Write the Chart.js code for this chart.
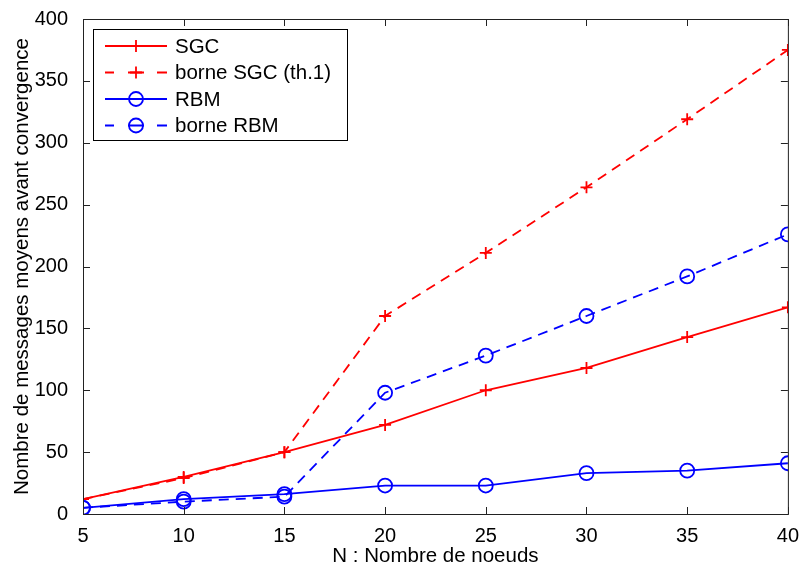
<!DOCTYPE html>
<html>
<head>
<meta charset="utf-8">
<script src="https://cdn.jsdelivr.net/npm/chart.js@4"></script>
<style>
  body { margin: 0; background: #fff; }
  #wrap { width: 801px; height: 569px; }
</style>
</head>
<body>
<div id="wrap"><canvas id="myChart" width="801" height="569"></canvas></div>
<script>
// Data
const nodes = [5, 10, 15, 20, 25, 30, 35, 40];
const sgc = [12, 30, 50, 72, 100, 118, 143, 167];
const borneSgc = [12, 29, 50, 160, 211, 264, 319, 375];
const rbm = [5, 12, 16, 23, 23, 33, 35, 41];
const borneRbm = [5, 10, 14, 98, 128, 160, 192, 226];
const seriesLabels = ['SGC', 'borne SGC (th.1)', 'RBM', 'borne RBM'];

const FONT = 'Liberation Sans, Arial, Helvetica, sans-serif';
const DASH = [10, 7];

function toPoints(arr) {
    return arr.map((v, i) => ({ x: nodes[i], y: v }));
}

function makeSet(label, data, color, style, dashed) {
    return {
        label: label,
        data: toPoints(data),
        borderColor: color,
        backgroundColor: 'rgba(0,0,0,0)',
        borderWidth: 1.8,
        borderDash: dashed ? DASH : [],
        pointStyle: style,
        pointRadius: style === 'cross' ? 6 : 7,
        pointBorderWidth: 1.8,
        pointBorderColor: color,
        pointBackgroundColor: 'rgba(0,0,0,0)',
        tension: 0
    };
}

// Box around plot, inward ticks and the legend (MATLAB look)
const boxPlugin = {
    id: 'boxPlugin',
    afterDraw(chart) {
        const ctx = chart.ctx;
        const a = chart.chartArea;
        const xs = chart.scales.x;
        const ys = chart.scales.y;
        ctx.save();
        ctx.strokeStyle = '#222';
        ctx.lineWidth = 1;
        ctx.strokeRect(a.left + 0.5, a.top + 0.5, a.right - a.left, a.bottom - a.top);
        const t = 7;
        xs.ticks.forEach(tk => {
            const px = Math.round(xs.getPixelForValue(tk.value)) + 0.5;
            ctx.beginPath();
            ctx.moveTo(px, a.bottom); ctx.lineTo(px, a.bottom - t);
            ctx.moveTo(px, a.top); ctx.lineTo(px, a.top + t);
            ctx.stroke();
        });
        ys.ticks.forEach(tk => {
            const py = Math.round(ys.getPixelForValue(tk.value)) + 0.5;
            ctx.beginPath();
            ctx.moveTo(a.left, py); ctx.lineTo(a.left + t, py);
            ctx.moveTo(a.right, py); ctx.lineTo(a.right - t, py);
            ctx.stroke();
        });

        // legend
        const lx = 93, ly = 29, lw = 254, lh = 111;
        ctx.fillStyle = '#fff';
        ctx.fillRect(lx, ly, lw, lh);
        ctx.strokeStyle = '#000';
        ctx.strokeRect(lx + 0.5, ly + 0.5, lw, lh);
        ctx.font = '20.5px ' + FONT;
        ctx.textBaseline = 'middle';
        chart.data.datasets.forEach((ds, i) => {
            const yy = ly + 17 + i * 26.5;
            ctx.strokeStyle = ds.borderColor;
            ctx.lineWidth = 1.8;
            ctx.beginPath();
            if (ds.borderDash.length) {
                ctx.moveTo(105, yy); ctx.lineTo(114, yy);
                ctx.moveTo(157, yy); ctx.lineTo(167, yy);
                ctx.moveTo(128, yy); ctx.lineTo(144, yy);
            } else {
                ctx.moveTo(105, yy); ctx.lineTo(167, yy);
            }
            ctx.stroke();
            ctx.beginPath();
            if (ds.pointStyle === 'cross') {
                ctx.moveTo(136 - 6, yy); ctx.lineTo(136 + 6, yy);
                ctx.moveTo(136, yy - 6); ctx.lineTo(136, yy + 6);
            } else {
                ctx.arc(136, yy, 7, 0, Math.PI * 2);
            }
            ctx.stroke();
            ctx.fillStyle = '#000';
            ctx.fillText(ds.label, 175, yy + 1);
        });
        ctx.restore();
    }
};

const ctx = document.getElementById('myChart').getContext('2d');
const myChart = new Chart(ctx, {
    type: 'line',
    data: {
        datasets: [
            makeSet(seriesLabels[0], sgc, '#ff0000', 'cross', false),
            makeSet(seriesLabels[1], borneSgc, '#ff0000', 'cross', true),
            makeSet(seriesLabels[2], rbm, '#0000ff', 'circle', false),
            makeSet(seriesLabels[3], borneRbm, '#0000ff', 'circle', true)
        ]
    },
    options: {
        responsive: false,
        animation: false,
        layout: { padding: { top: 19, right: 13, left: 0, bottom: 0 } },
        plugins: {
            legend: { display: false },
            tooltip: { enabled: false }
        },
        scales: {
            x: {
                type: 'linear',
                min: 5,
                max: 40,
                grid: { display: false },
                border: { display: false },
                ticks: {
                    stepSize: 5,
                    color: '#000',
                    padding: 2,
                    maxRotation: 0,
                    font: { family: FONT, size: 20 }
                },
                title: {
                    display: true,
                    text: 'N : Nombre de noeuds',
                    color: '#000',
                    padding: { top: 0, bottom: 0 },
                    font: { family: FONT, size: 20.5 }
                },
                afterFit(scale) { scale.height = 55; }
            },
            y: {
                min: 0,
                max: 400,
                grid: { display: false },
                border: { display: false },
                ticks: {
                    stepSize: 50,
                    color: '#000',
                    padding: 7,
                    font: { family: FONT, size: 20 }
                },
                title: {
                    display: true,
                    text: 'Nombre de messages moyens avant convergence',
                    color: '#000',
                    padding: { top: 10, bottom: 0 },
                    font: { family: FONT, size: 20.5 }
                },
                afterFit(scale) { scale.width = 83; }
            }
        }
    },
    plugins: [boxPlugin]
});
</script>
</body>
</html>
